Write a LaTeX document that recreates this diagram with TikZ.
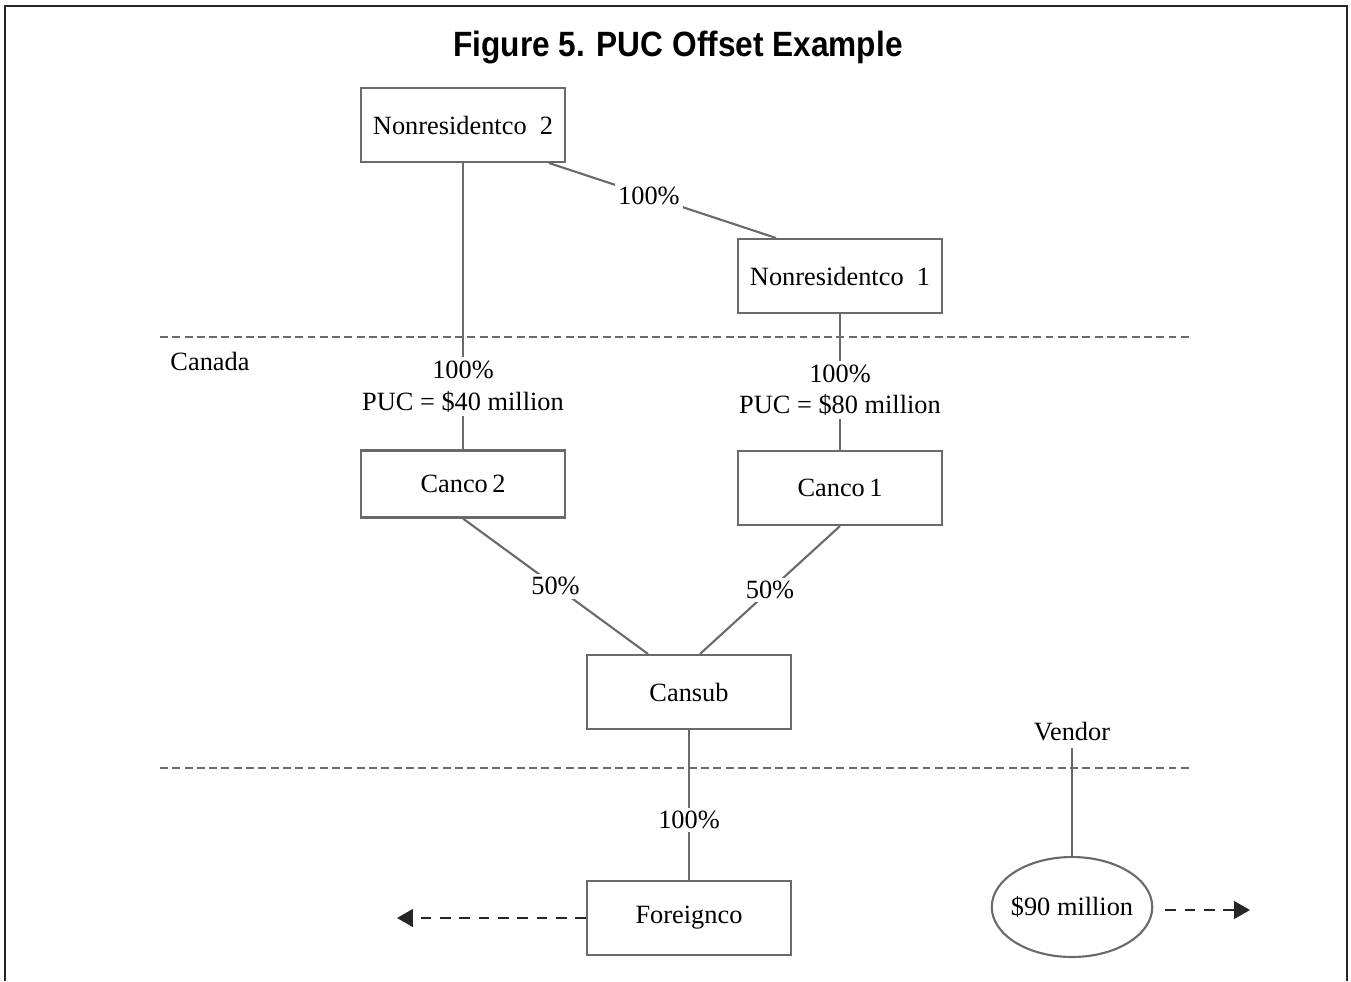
\documentclass[tikz,border=0pt]{standalone}
\usepackage{fontspec}
\setmainfont{Liberation Serif}
\setsansfont{Liberation Sans}
\usepackage{xcolor}
\usetikzlibrary{shapes.geometric,arrows.meta}

\definecolor{linegrey}{HTML}{6A6A6A}
\tikzset{
  entity/.style={draw=linegrey, line width=1.2pt, minimum width=4.08cm, minimum height=1.48cm, font=\fontsize{15}{18}\selectfont},
  own/.style={draw=linegrey, line width=1.2pt},
  pct/.style={fill=white, inner sep=2pt, align=center, font=\fontsize{15}{18}\selectfont},
  border/.style={draw=linegrey, line width=1.1pt, dash pattern=on 4.5pt off 2.5pt},
  flow/.style={draw=black!85, line width=1.3pt, dash pattern=on 6pt off 5pt, -{Triangle[length=9pt,width=10pt]}}
}

\begin{document}
\begin{tikzpicture}[x=0.02cm, y=-0.02cm]
\useasboundingbox (0,0) rectangle (1351,981);
\draw[black!85, line width=0.8pt] (5,981) -- (5,6) -- (1347,6) -- (1347,981);

\node[font=\sffamily\bfseries\fontsize{20}{24}\selectfont, xscale=0.9] (title) at (678,47) {Figure 5. PUC Offset Example};

\node[entity] (nr2) at (463,125) {Nonresidentco~~2};
\node[entity] (nr1) at (840,276) {Nonresidentco~~1};
\node[entity, minimum height=1.34cm] (canco2) at (463,484) {Canco\,2};
\node[entity] (canco1) at (840,488) {Canco\,1};
\node[entity] (cansub) at (689,692) {Cansub};
\node[entity] (foreign) at (689,918) {Foreignco};
\node[ellipse, draw=linegrey, line width=1.2pt, minimum height=2cm, inner xsep=-2.5pt, inner ysep=0pt, font=\fontsize{15}{18}\selectfont] (price) at (1072,907) {\$90 million};

% borders
\draw[border] (160,337) -- (1192,337);
\draw[border] (160,768) -- (1192,768);
\node[font=\fontsize{15}{18}\selectfont] (canada) at (210,361) {Canada};
\node[font=\fontsize{15}{18}\selectfont] (vendor) at (1072,732) {Vendor};

% ownership
\draw[own] (nr2.south east) ++(-17,0) coordinate (a) -- (nr1.north west -| 776,0) node[pct, pos=0.44] {100\%};
\draw[own] (nr2.south) -- (canco2.north) node[pct, pos=0.78] {100\%\\[0pt]PUC = \$40 million};
\draw[own] (nr1.south) -- (canco1.north) node[pct, pos=0.56] {100\%\\[0pt]PUC = \$80 million};
\draw[own] (canco2.south) -- (cansub.north -| 648,0) node[pct, pos=0.5] {50\%};
\draw[own] (canco1.south) -- (cansub.north -| 700,0) node[pct, pos=0.5] {50\%};
\draw[own] (cansub.south) -- (foreign.north) node[pct, pos=0.6] {100\%};
\draw[own] (vendor.south) -- (price.north);

% flows
\coordinate (west) at (397,918);
\coordinate (east) at (1250,910);
\draw[flow] (foreign.west) -- (west);
\draw[flow] (price.east |- east) ++(12,0) -- (east);
\end{tikzpicture}
\end{document}
